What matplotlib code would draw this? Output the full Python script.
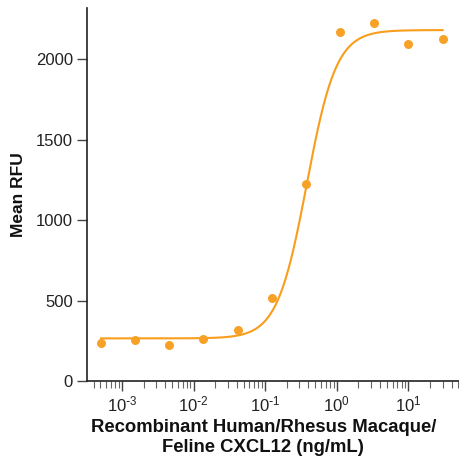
import numpy as np
import matplotlib
matplotlib.use("Agg")
import matplotlib.pyplot as plt
from matplotlib.ticker import LogLocator, NullFormatter, FuncFormatter

# Data
conc = [0.000508, 0.00152, 0.00457, 0.0137, 0.0412, 0.123, 0.370, 1.11, 3.33, 10.0, 30.0]
rfu = [238, 256, 225, 261, 315, 515, 1224, 2168, 2224, 2093, 2124]

# 4-parameter logistic fit parameters (estimated)
fit_bottom = 265
fit_top = 2180
fit_ec50 = 0.38
fit_hill = 2.1

point_color = "#F7A127"
line_color = "#F99D1C"

plt.rcParams['font.family'] = ['Liberation Sans', 'DejaVu Sans']
plt.rcParams['mathtext.default'] = 'regular'

fig = plt.figure(figsize=(4.6, 4.58), dpi=100)
ax = fig.add_axes([0.189, 0.168, 0.811, 0.8145])

xs = np.logspace(np.log10(conc[0]), np.log10(conc[-1]), 400)
ys = fit_bottom + (fit_top - fit_bottom) / (1 + (fit_ec50 / xs) ** fit_hill)
ax.plot(xs, ys, color=line_color, lw=1.5, zorder=2)
ax.scatter(conc, rfu, s=42, color=point_color, zorder=3, linewidths=0)

ax.set_xscale('log')
ax.set_xlim(10 ** -3.49, 10 ** 1.72)
ax.set_ylim(0, 2317)
ax.set_yticks([0, 500, 1000, 1500, 2000])
ax.xaxis.set_major_locator(LogLocator(base=10, numticks=20))
ax.xaxis.set_minor_locator(LogLocator(base=10, subs=np.arange(2, 10), numticks=20))
ax.xaxis.set_minor_formatter(NullFormatter())


def fmt(v, pos):
    e = int(round(np.log10(v)))
    if e < 0:
        return r'$10^{\text{-}%d}$' % (-e)
    return r'$10^{%d}$' % e


ax.xaxis.set_major_formatter(FuncFormatter(fmt))

for s in ['top', 'right']:
    ax.spines[s].set_visible(False)
for s in ['left', 'bottom']:
    ax.spines[s].set_linewidth(1.2)
    ax.spines[s].set_color('#222222')

ax.tick_params(axis='both', which='major', direction='out', length=7, width=1, color='#444444',
               labelsize=12, labelcolor='#222222', pad=3)
ax.tick_params(axis='x', which='minor', direction='out', length=5, width=0.8, color='#666666')

ax.set_xlabel("Recombinant Human/Rhesus Macaque/\nFeline CXCL12 (ng/mL)", fontsize=13.3,
              fontweight='bold', color='#111111', linespacing=1.25)
ax.xaxis.set_label_coords(0.473, -0.101, transform=ax.transAxes)
ax.xaxis.label.set_verticalalignment('top')
ax.set_ylabel("Mean RFU", fontsize=12.5, fontweight='bold', color='#111111', labelpad=7)

fig.savefig("out.png", dpi=100)
